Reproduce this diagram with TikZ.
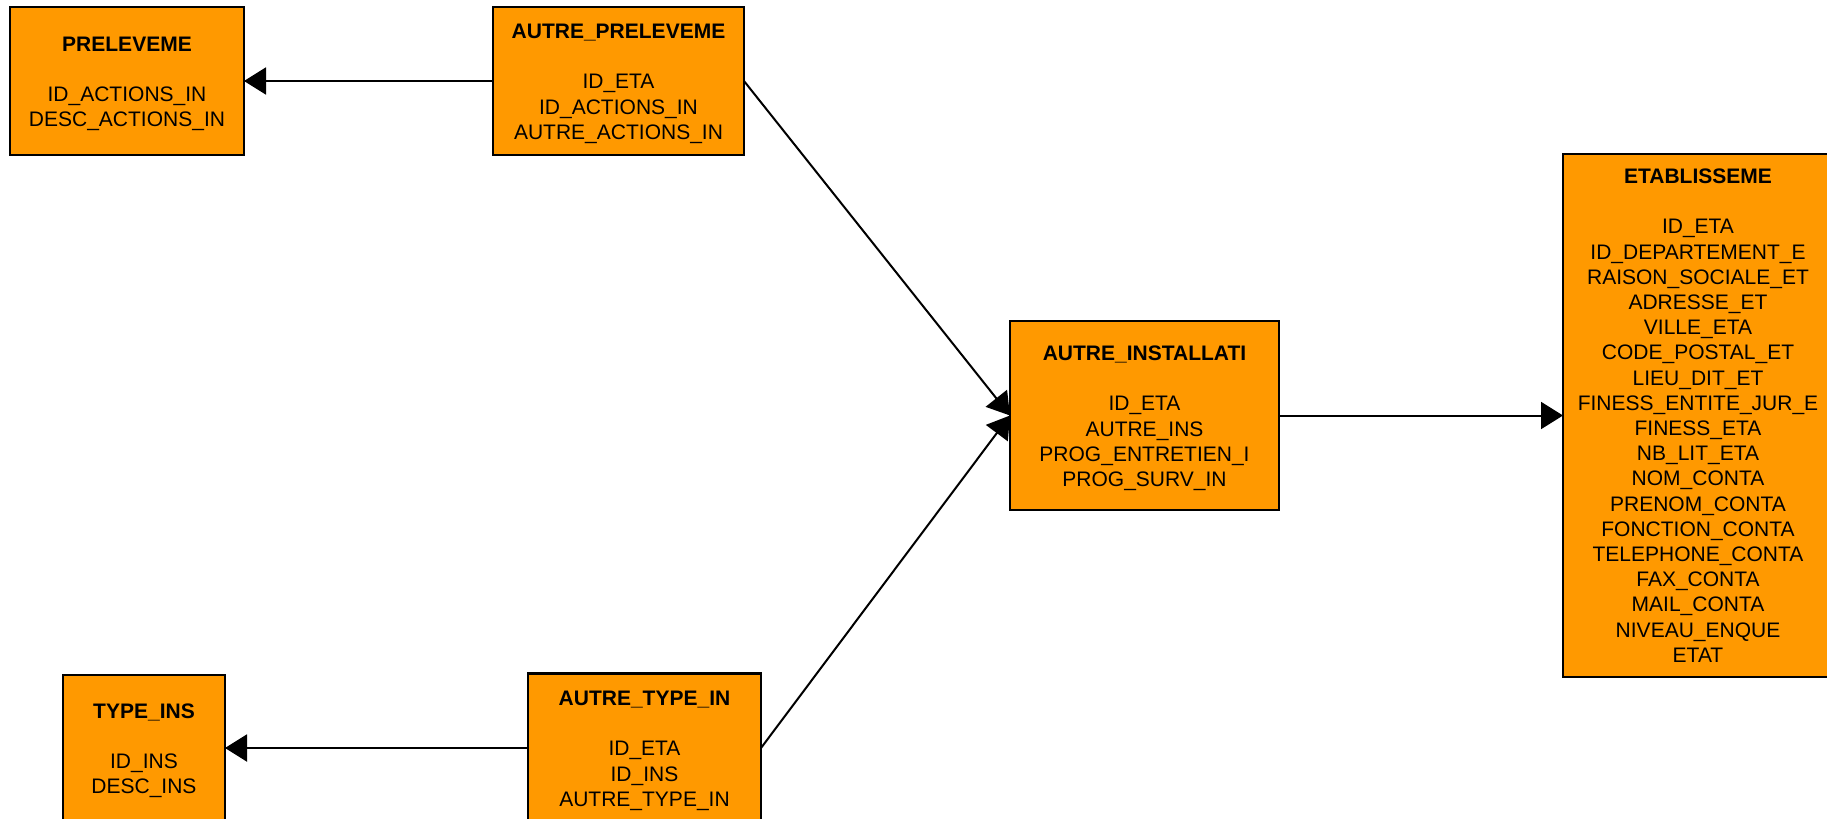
\documentclass[tikz,border=0pt]{standalone}
\usepackage{fontspec}
\setmainfont{Liberation Sans}
\usetikzlibrary{positioning, arrows.meta}
\definecolor{tblorange}{HTML}{FF9900}
\newcommand{\tbtitle}[1]{\rule{0pt}{10pt}\textbf{#1}}

\begin{document}
\begin{tikzpicture}[x=0.5pt, y=-0.5pt,
    tb/.style={rectangle, draw, line width=1.1pt, fill=tblorange, align=center,
        inner sep=0pt, outer sep=0pt, font=\fontsize{10.5}{12.6}\selectfont},
    ar/.style={-{Triangle[length=11pt, width=13.5pt]}, line width=1pt}]
\useasboundingbox (0,0) rectangle (1827,819);
\clip (0,0) rectangle (1827,819);
% tables
\node[tb, minimum width=117pt, minimum height=74pt] (pre) at (127,81)
    {\tbtitle{PRELEVEME}\\[12.6pt]ID\_ACTIONS\_IN\\DESC\_ACTIONS\_IN};
\node[tb, minimum width=125.5pt, minimum height=74pt, right=124.5pt of pre] (apre)
    {\tbtitle{AUTRE\_PRELEVEME}\\[12.6pt]ID\_ETA\\ID\_ACTIONS\_IN\\AUTRE\_ACTIONS\_IN};
\node[tb, minimum width=134.5pt, minimum height=94.5pt] (ains) at (1144.5,415.5)
    {\tbtitle{AUTRE\_INSTALLATI}\\[12.6pt]ID\_ETA\\AUTRE\_INS\\PROG\_ENTRETIEN\_I\\PROG\_SURV\_IN};
\node[tb, minimum width=135pt, minimum height=261.5pt, right=142pt of ains] (eta)
    {\textbf{ETABLISSEME}\\[12.6pt]ID\_ETA\\ID\_DEPARTEMENT\_E\\RAISON\_SOCIALE\_ET\\ADRESSE\_ET\\
     VILLE\_ETA\\CODE\_POSTAL\_ET\\LIEU\_DIT\_ET\\FINESS\_ENTITE\_JUR\_E\\FINESS\_ETA\\
     NB\_LIT\_ETA\\NOM\_CONTA\\PRENOM\_CONTA\\FONCTION\_CONTA\\TELEPHONE\_CONTA\\
     FAX\_CONTA\\MAIL\_CONTA\\NIVEAU\_ENQUE\\ETAT};
\node[tb, minimum width=81pt, minimum height=73pt] (ty) at (144,748)
    {\tbtitle{TYPE\_INS}\\[12.6pt]ID\_INS\\DESC\_INS};
\node[tb, minimum width=116.5pt, minimum height=74.5pt, right=151.5pt of ty] (aty)
    {\tbtitle{AUTRE\_TYPE\_IN}\\[12.6pt]ID\_ETA\\ID\_INS\\AUTRE\_TYPE\_IN};
% links
\draw[ar] (apre) -- (pre);
\draw[ar] (apre.east) -- (ains.west);
\draw[ar] (aty.east) -- (ains.west);
\draw[ar] (aty) -- (ty);
\draw[ar] (ains) -- (eta);
\end{tikzpicture}
\end{document}
